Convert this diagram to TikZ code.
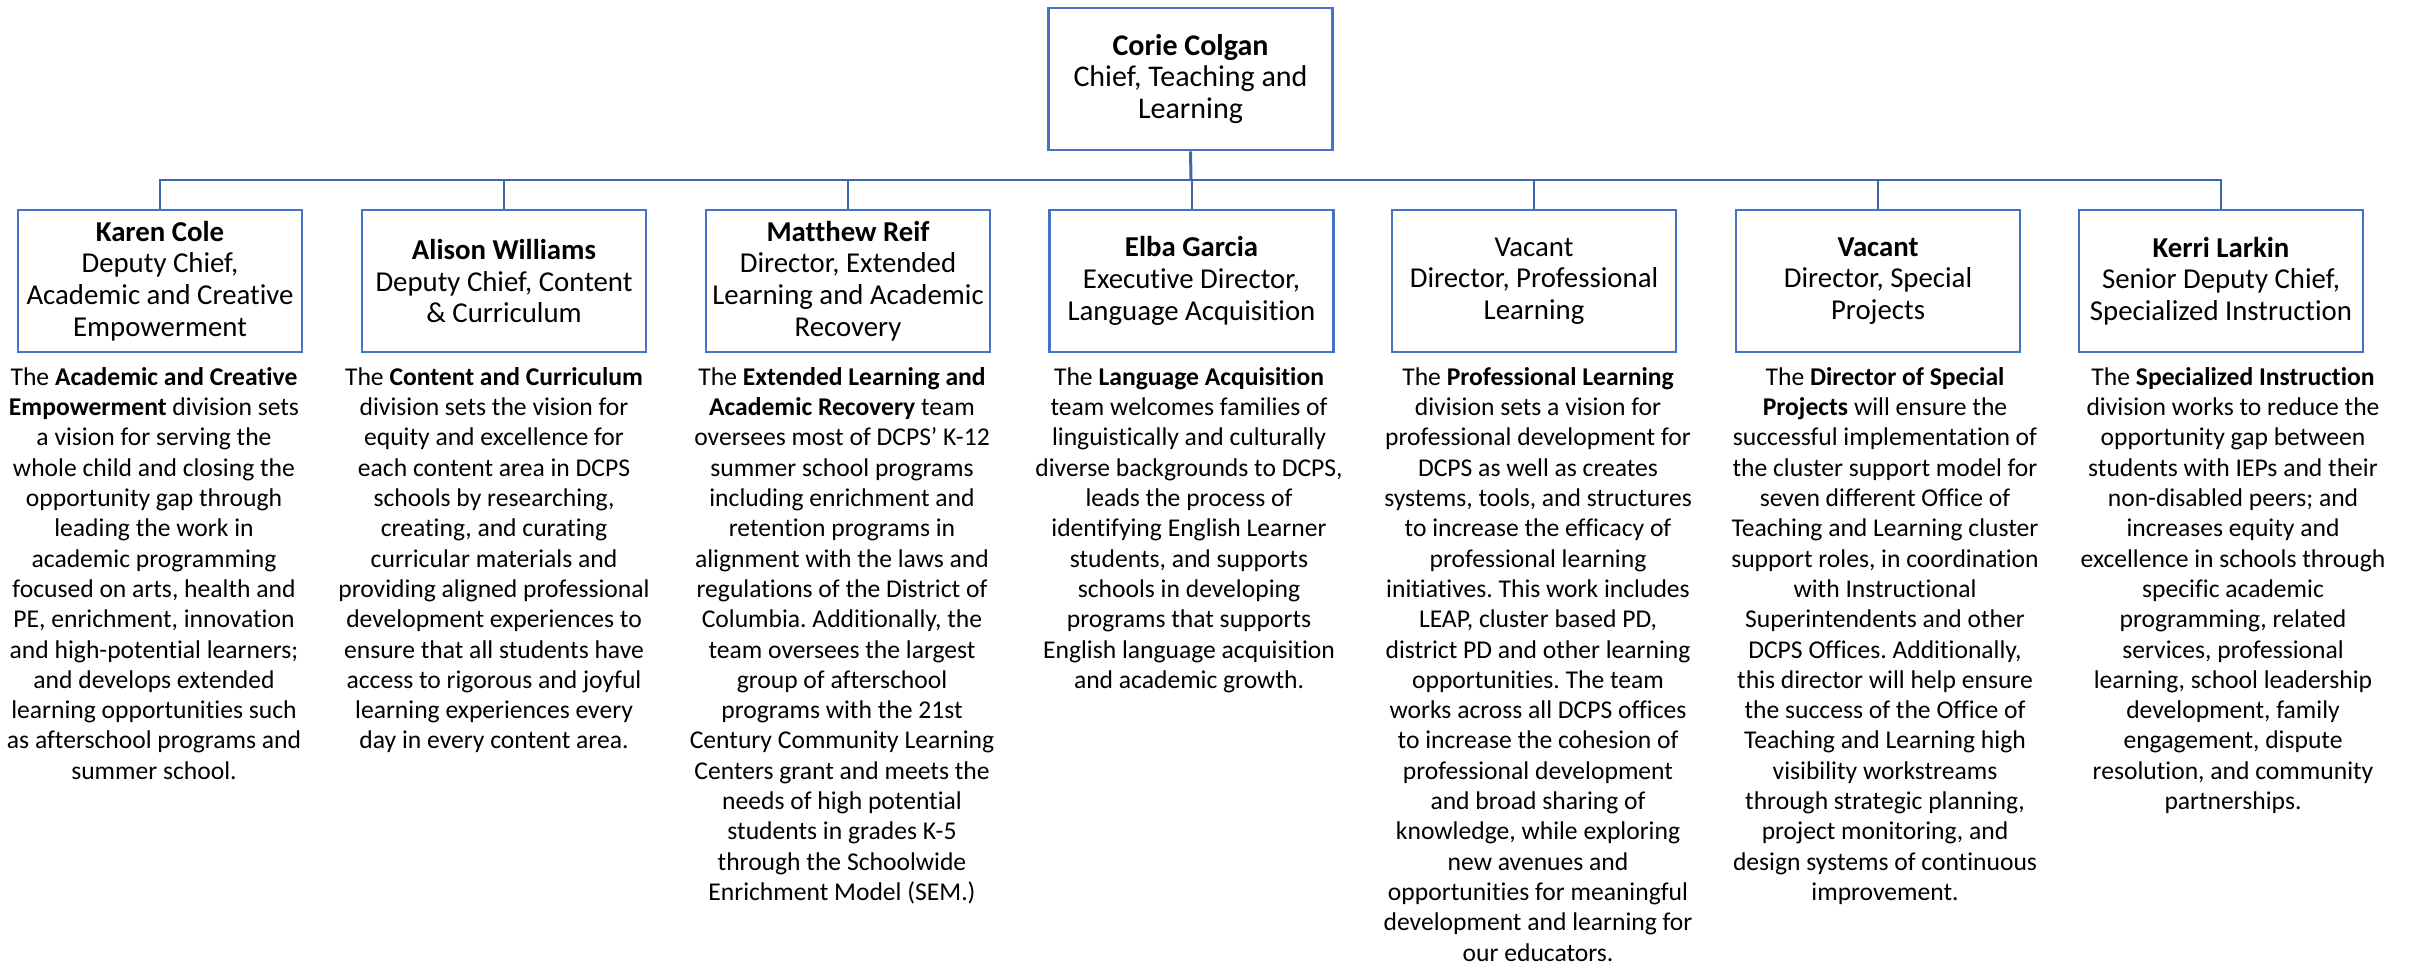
\documentclass[tikz,border=0pt]{standalone}
\usepackage{fontspec}
\defaultfontfeatures{}
\setmainfont{Carlito}[Ligatures=CommonOff]
\frenchspacing
\definecolor{boxblue}{HTML}{4472C4}
\definecolor{lineblue}{HTML}{3F65AE}
\begin{document}
\begin{tikzpicture}[x=0.5pt,y=-0.5pt,
  person/.style={draw=boxblue,line width=1.35pt,minimum width=142pt,minimum height=71pt,inner sep=0pt,align=center,font=\fontsize{14.4}{15.85}\selectfont},
  desc/.style={anchor=north,inner sep=0pt,align=center,font=\fontsize{12.8}{15.15}\selectfont},
  conn/.style={draw=lineblue,line width=1pt},
  stem/.style={draw=lineblue,line width=1.5pt}]
\useasboundingbox (0,0) rectangle (2412,963);
\node[person,font=\fontsize{15}{15.85}\selectfont] (top) at (1190.5,79) {\textbf{Corie Colgan}\\Chief, Teaching and\\Learning};
\node[person] (b1) at (160,281) {\textbf{Karen Cole}\\Deputy Chief,\\Academic and Creative\\Empowerment};
\node[person] (b2) at (504,281) {\textbf{Alison Williams}\\Deputy Chief, Content\\\& Curriculum};
\node[person] (b3) at (848,281) {\textbf{Matthew Reif}\\Director, Extended\\Learning and Academic\\Recovery};
\node[person] (b4) at (1191.5,281) {\textbf{Elba Garcia}\\Executive Director,\\Language Acquisition};
\node[person] (b5) at (1534,281) {Vacant\\Director, Professional\\Learning};
\node[person] (b6) at (1878,281) {\textbf{Vacant}\\Director, Special\\Projects};
\node[person] (b7) at (2221,281) {\textbf{Kerri Larkin}\\Senior Deputy Chief,\\Specialized Instruction};
\coordinate (bus) at (1191,180);
\draw[stem] (top.south) -- (bus);
\foreach \b in {b1,b2,b3,b4,b5,b6,b7} \draw[conn] (\b.north) |- (bus);
\node[desc] (d1) at (154,367) {The \textbf{Academic and Creative}\\
\textbf{Empowerment} division sets\\
a vision for serving the\\
whole child and closing the\\
opportunity gap through\\
leading the work in\\
academic programming\\
focused on arts, health and\\
PE, enrichment, innovation\\
and high-potential learners;\\
and develops extended\\
learning opportunities such\\
as afterschool programs and\\
summer school.};
\node[desc] (d2) at (494,367) {The \textbf{Content and Curriculum}\\
division sets the vision for\\
equity and excellence for\\
each content area in DCPS\\
schools by researching,\\
creating, and curating\\
curricular materials and\\
providing aligned professional\\
development experiences to\\
ensure that all students have\\
access to rigorous and joyful\\
learning experiences every\\
day in every content area.};
\node[desc] (d3) at (842,367) {The \textbf{Extended Learning and}\\
\textbf{Academic Recovery} team\\
oversees most of DCPS' K-12\\
summer school programs\\
including enrichment and\\
retention programs in\\
alignment with the laws and\\
regulations of the District of\\
Columbia. Additionally, the\\
team oversees the largest\\
group of afterschool\\
programs with the 21st\\
Century Community Learning\\
Centers grant and meets the\\
needs of high potential\\
students in grades K-5\\
through the Schoolwide\\
Enrichment Model (SEM.)};
\node[desc] (d4) at (1189,367) {The \textbf{Language Acquisition}\\
team welcomes families of\\
linguistically and culturally\\
diverse backgrounds to DCPS,\\
leads the process of\\
identifying English Learner\\
students, and supports\\
schools in developing\\
programs that supports\\
English language acquisition\\
and academic growth.};
\node[desc] (d5) at (1538,367) {The \textbf{Professional Learning}\\
division sets a vision for\\
professional development for\\
DCPS as well as creates\\
systems, tools, and structures\\
to increase the efficacy of\\
professional learning\\
initiatives. This work includes\\
LEAP, cluster based PD,\\
district PD and other learning\\
opportunities. The team\\
works across all DCPS offices\\
to increase the cohesion of\\
professional development\\
and broad sharing of\\
knowledge, while exploring\\
new avenues and\\
opportunities for meaningful\\
development and learning for\\
our educators.};
\node[desc] (d6) at (1885,367) {The \textbf{Director of Special}\\
\textbf{Projects} will ensure the\\
successful implementation of\\
the cluster support model for\\
seven different Office of\\
Teaching and Learning cluster\\
support roles, in coordination\\
with Instructional\\
Superintendents and other\\
DCPS Offices. Additionally,\\
this director will help ensure\\
the success of the Office of\\
Teaching and Learning high\\
visibility workstreams\\
through strategic planning,\\
project monitoring, and\\
design systems of continuous\\
improvement.};
\node[desc] (d7) at (2233,367) {The \textbf{Specialized Instruction}\\
division works to reduce the\\
opportunity gap between\\
students with IEPs and their\\
non-disabled peers; and\\
increases equity and\\
excellence in schools through\\
specific academic\\
programming, related\\
services, professional\\
learning, school leadership\\
development, family\\
engagement, dispute\\
resolution, and community\\
partnerships.};
\end{tikzpicture}
\end{document}
